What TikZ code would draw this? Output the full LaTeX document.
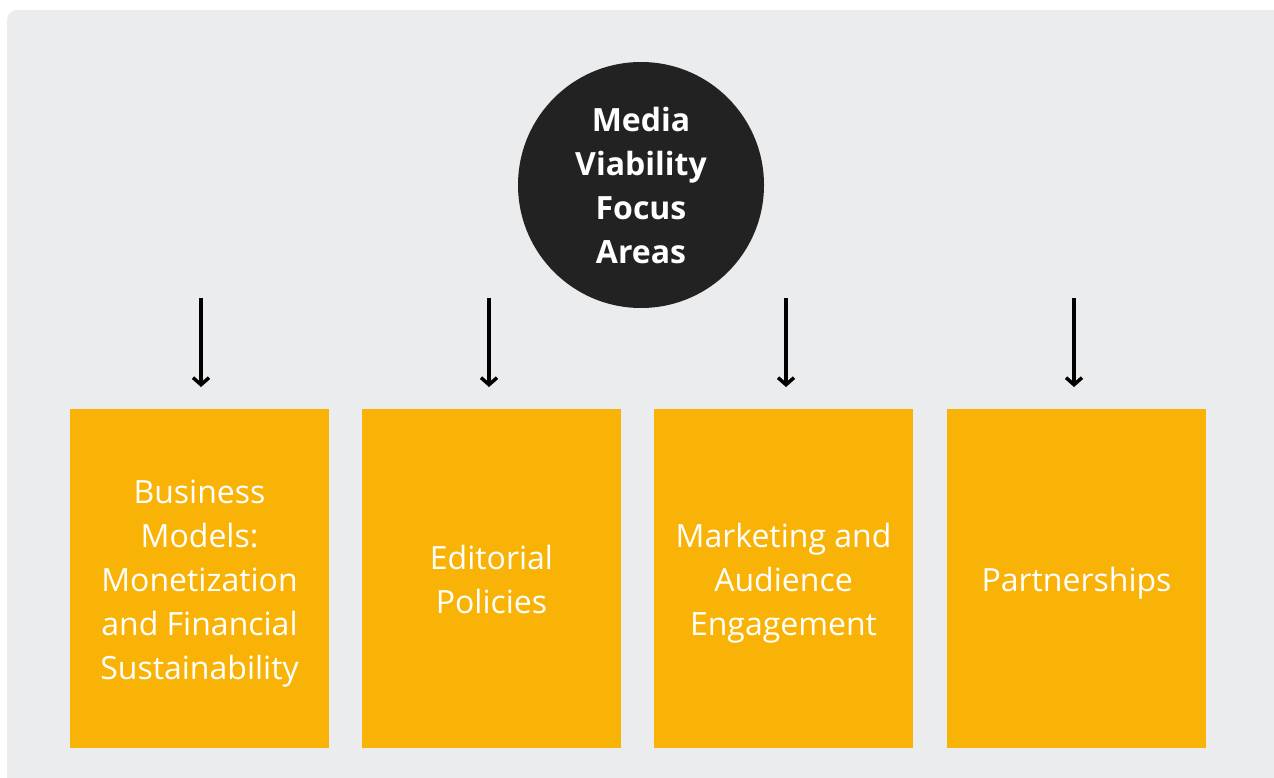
\documentclass[tikz,border=0pt]{standalone}
\usepackage{fontspec}
\setmainfont{Open Sans}
\usetikzlibrary{arrows.meta}
\definecolor{bggray}{HTML}{EBECEE}
\definecolor{hubfill}{HTML}{222222}
\definecolor{boxorange}{HTML}{F9B307}
\begin{document}
\begin{tikzpicture}[x=1pt,y=-1pt,
  area/.style={fill=boxorange, draw=none, minimum width=259pt, minimum height=339pt, inner sep=0pt},
  areatext/.style={text=white, align=center, inner sep=0pt, font=\fontsize{32}{44}\selectfont},
  link/.style={line width=3.5pt, -{Straight Barb[length=7pt,width=16pt,line width=3.5pt]}}]
\useasboundingbox (0,0) rectangle (1274,778);
\fill[bggray, rounded corners=10pt] (7,10) rectangle (1284,800);
\node[circle, fill=hubfill, minimum size=246pt, inner sep=0pt, text=white, align=center, font=\bfseries\fontsize{32}{44}\selectfont] (hub) at (641,185) {Media\\Viability\\Focus\\Areas};
\node[area] (b1) at (199.5,578.5) {};
\node[area] (b2) at (491.5,578.5) {};
\node[area] (b3) at (783.5,578.5) {};
\node[area] (b4) at (1076.5,578.5) {};
\node[areatext] (t1) at ([yshift=-4.5pt]b1.center) {\strut Business\\\strut Models:\\\strut Monetization\\\strut and Financial\\\strut Sustainability};
\node[areatext] (t2) at ([yshift=-4.5pt]b2.center) {\strut Editorial\\\strut Policies};
\node[areatext] (t3) at ([yshift=-4.5pt]b3.center) {\strut Marketing and\\\strut Audience\\\strut Engagement};
\node[areatext] (t4) at ([yshift=-4.5pt]b4.center) {\strut Partnerships};
\coordinate (s1) at (201,298); \coordinate (e1) at (201,387);
\coordinate (s2) at (489,298); \coordinate (e2) at (489,387);
\coordinate (s3) at (786,298); \coordinate (e3) at (786,387);
\coordinate (s4) at (1074,298); \coordinate (e4) at (1074,387);
\draw[link] (s1) -- (e1);
\draw[link] (s2) -- (e2);
\draw[link] (s3) -- (e3);
\draw[link] (s4) -- (e4);
\end{tikzpicture}
\end{document}
